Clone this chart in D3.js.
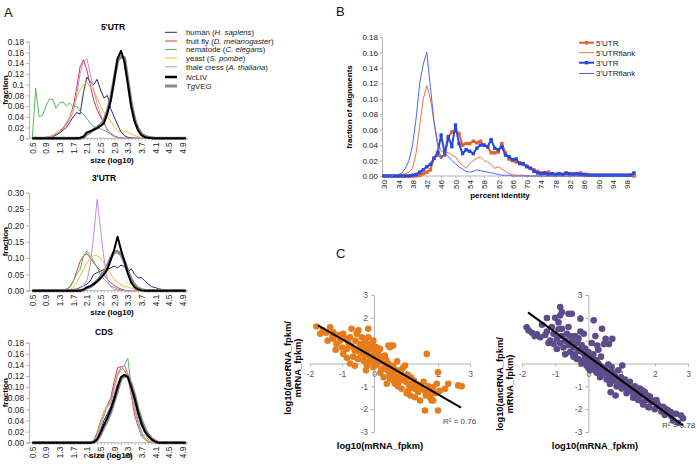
<!DOCTYPE html>
<html><head><meta charset="utf-8">
<script src="https://cdn.jsdelivr.net/npm/d3@7"></script>
<style>
body{margin:0;background:#fff;}
svg{display:block;font-family:"Liberation Sans",Arial,Helvetica,sans-serif;}
</style></head><body>
<svg id="chart" width="696" height="469"></svg>
<script>
// ---------------- DATA ----------------
// Panel A: size bins (log10) and tick labels
const sizeBins = [0.5,0.6,0.7,0.8,0.9,1.0,1.1,1.2,1.3,1.4,1.5,1.6,1.7,1.8,1.9,2.0,2.1,2.2,2.3,2.4,2.5,2.6,2.7,2.8,2.9,3.0,3.1,3.2,3.3,3.4,3.5,3.6,3.7,3.8,3.9,4.0,4.1,4.2,4.3,4.4,4.5,4.6,4.7,4.8,4.9,5.0];
const sizeLabels = ["0.5","0.9","1.3","1.7","2.1","2.5","2.9","3.3","3.7","4.1","4.5","4.9"];
const speciesNames = ["human","fruit fly","nematode","yeast","thale cress","NcLIV","TgVEG"];

const utr5_human = [0,0,0,0,0,0.001,0.003,0.006,0.01,0.015,0.02,0.03,0.04,0.048,0.045,0.085,0.114,0.105,0.1,0.11,0.09,0.075,0.08,0.055,0.04,0.025,0.012,0.005,0.002,0.001,0,0,0,0,0,0,0,0,0,0,0,0,0,0,0,0];
const utr5_fly = [0.001,0.002,0.001,0.001,0.002,0.003,0.005,0.008,0.012,0.019,0.028,0.04,0.059,0.093,0.133,0.146,0.127,0.099,0.071,0.053,0.04,0.028,0.016,0.009,0.004,0.002,0.001,0,0,0,0,0,0,0,0,0,0,0,0,0,0,0,0,0,0,0];
const utr5_worm = [0,0.093,0.04,0.043,0.06,0.073,0.072,0.056,0.066,0.068,0.06,0.066,0.058,0.06,0.05,0.045,0.037,0.028,0.022,0.02,0.018,0.015,0.012,0.008,0.005,0.002,0.001,0,0,0,0,0,0,0,0,0,0,0,0,0,0,0,0,0,0,0];
const utr5_yeast = [0,0,0,0,0.001,0.003,0.006,0.01,0.015,0.02,0.03,0.04,0.055,0.075,0.09,0.1,0.104,0.095,0.09,0.075,0.06,0.048,0.04,0.032,0.022,0.014,0.01,0.012,0.012,0.008,0.005,0.003,0.001,0,0,0,0,0,0,0,0,0,0,0,0,0];
const utr5_cress = [0,0,0,0,0,0.002,0.004,0.008,0.012,0.017,0.025,0.035,0.05,0.08,0.12,0.143,0.148,0.12,0.09,0.065,0.045,0.03,0.015,0.007,0.003,0.001,0,0,0,0,0,0,0,0,0,0,0,0,0,0,0,0,0,0,0,0];
const utr5_nc = [0,0,0,0,0,0,0,0,0,0,0,0,0,0,0.001,0.003,0.011,0.013,0.016,0.019,0.023,0.028,0.047,0.07,0.108,0.149,0.163,0.143,0.102,0.059,0.031,0.015,0.006,0.002,0.001,0,0,0,0,0,0,0,0,0,0,0];
const utr5_tg = [0,0,0,0,0,0,0,0,0,0,0,0,0,0,0,0.002,0.008,0.012,0.016,0.02,0.025,0.032,0.05,0.075,0.11,0.145,0.152,0.15,0.108,0.065,0.035,0.018,0.008,0.004,0.002,0.001,0,0,0,0,0,0,0,0,0,0];

const utr3_human = [0,0,0,0,0,0,0,0,0.002,0.001,0.002,0.003,0.004,0.005,0.01,0.015,0.02,0.03,0.05,0.055,0.06,0.065,0.065,0.07,0.075,0.07,0.078,0.075,0.055,0.068,0.05,0.04,0.04,0.03,0.02,0.012,0.01,0.006,0.004,0.003,0.002,0.001,0,0,0,0];
const utr3_fly = [0,0,0,0,0,0,0,0,0.004,0.002,0.005,0.01,0.028,0.058,0.089,0.106,0.114,0.1,0.085,0.073,0.06,0.048,0.035,0.025,0.016,0.01,0.005,0.002,0,0,0,0,0,0,0,0,0,0,0,0,0,0,0,0,0,0];
const utr3_worm = [0,0,0,0,0,0,0,0,0.003,0.002,0.005,0.012,0.03,0.05,0.065,0.105,0.122,0.108,0.09,0.07,0.05,0.035,0.025,0.015,0.01,0.005,0.002,0,0,0,0,0,0,0,0,0,0,0,0,0,0,0,0,0,0,0];
const utr3_yeast = [0,0,0,0,0,0,0,0,0.002,0.001,0.002,0.004,0.01,0.025,0.045,0.065,0.085,0.1,0.107,0.107,0.1,0.085,0.07,0.05,0.035,0.025,0.018,0.012,0.012,0.008,0.004,0.002,0,0,0,0,0,0,0,0,0,0,0,0,0,0];
const utr3_cress = [0,0,0,0,0,0,0,0,0,0,0,0,0.002,0.004,0.008,0.015,0.03,0.08,0.17,0.28,0.19,0.1,0.035,0.012,0.004,0.001,0,0,0,0,0,0,0,0,0,0,0,0,0,0,0,0,0,0,0,0];
const utr3_nc = [0,0,0,0,0,0,0,0,0,0,0,0,0,0,0,0.004,0.01,0.014,0.02,0.028,0.038,0.05,0.065,0.095,0.125,0.165,0.125,0.09,0.053,0.025,0.01,0.004,0.001,0,0,0,0,0,0,0,0,0,0,0,0,0];
const utr3_tg = [0,0,0,0,0,0,0,0,0,0,0,0,0,0,0,0.002,0.008,0.012,0.02,0.03,0.042,0.055,0.075,0.1,0.118,0.12,0.11,0.09,0.06,0.035,0.018,0.008,0.003,0.001,0,0,0,0,0,0,0,0,0,0,0,0];

const cds_human = [0,0,0,0,0,0,0,0,0,0,0,0,0,0,0,0,0,0,0.001,0.008,0.022,0.04,0.052,0.065,0.085,0.105,0.115,0.12,0.118,0.1,0.075,0.05,0.03,0.018,0.012,0.006,0.002,0,0,0,0,0,0,0,0,0];
const cds_fly = [0,0,0,0,0,0,0,0,0,0,0,0,0,0,0,0,0,0,0.004,0.018,0.038,0.055,0.068,0.08,0.11,0.135,0.137,0.13,0.12,0.085,0.05,0.03,0.012,0.006,0.002,0,0,0,0,0,0,0,0,0,0,0];
const cds_worm = [0,0,0,0,0,0,0,0,0,0,0,0,0,0,0,0,0,0,0.003,0.015,0.035,0.055,0.065,0.075,0.1,0.12,0.135,0.14,0.152,0.1,0.065,0.04,0.02,0.008,0.003,0.001,0,0,0,0,0,0,0,0,0,0];
const cds_yeast = [0,0,0,0,0,0,0,0,0,0,0,0,0,0,0,0,0,0,0.002,0.012,0.035,0.055,0.068,0.07,0.095,0.12,0.13,0.14,0.12,0.09,0.06,0.035,0.015,0.007,0.003,0,0,0,0,0,0,0,0,0,0,0];
const cds_cress = [0,0,0,0,0,0,0,0,0,0,0,0,0,0,0,0,0,0,0.002,0.01,0.03,0.048,0.065,0.07,0.1,0.125,0.135,0.14,0.125,0.09,0.06,0.035,0.012,0.015,0.006,0.002,0,0,0,0,0,0,0,0,0,0];
const cds_nc = [0,0,0,0,0,0,0,0,0,0,0,0,0,0,0,0,0,0,0.001,0.006,0.018,0.032,0.045,0.06,0.078,0.1,0.118,0.122,0.118,0.1,0.08,0.055,0.035,0.02,0.012,0.006,0.002,0,0,0,0,0,0,0,0,0];
const cds_tg = [0,0,0,0,0,0,0,0,0,0,0,0,0,0,0,0,0,0,0.001,0.005,0.015,0.028,0.04,0.055,0.075,0.095,0.115,0.12,0.12,0.105,0.085,0.06,0.04,0.025,0.014,0.007,0.003,0,0,0,0,0,0,0,0,0];

const yTicks018 = [0,0.02,0.04,0.06,0.08,0.1,0.12,0.14,0.16,0.18];
const yLabels5 = ["0","0.02","0.04","0.06","0.08","0.1","0.12","0.14","0.16","0.18"];
const yLabels2dec = ["0.00","0.02","0.04","0.06","0.08","0.10","0.12","0.14","0.16","0.18"];
const yTicks030 = [0,0.05,0.1,0.15,0.2,0.25,0.3];
const yLabels3 = ["0.00","0.05","0.10","0.15","0.20","0.25","0.30"];

// Panel B: percent identity bins
const identityBins = [30,31,32,33,34,35,36,37,38,39,40,41,42,43,44,45,46,47,48,49,50,51,52,53,54,55,56,57,58,59,60,61,62,63,64,65,66,67,68,69,70,71,72,73,74,75,76,77,78,79,80,81,82,83,84,85,86,87,88,89,90,91,92,93,94,95,96,97,98,99,100];
const identityTicks = [30,34,38,42,46,50,54,58,62,66,70,74,78,82,86,90,94,98];
const identityLabels = ["30","34","38","42","46","50","54","58","62","66","70","74","78","82","86","90","94","98"];
const alignNames = ["5'UTR","5'UTRflank","3'UTR","3'UTRflank"];
const utr5Align = [0,0,0,0,0,0,0,0,0,0, 0.001,0.003,0.005,0.008,0.023,0.027,0.025,0.027,0.05,0.057, 0.058,0.055,0.04,0.042,0.042,0.045,0.043,0.045,0.04,0.038, 0.03,0.03,0.031,0.042,0.03,0.022,0.02,0.018,0.017,0.015, 0.013,0.01,0.008,0.006,0.004,0.004,0.005,0.003,0.002,0.003, 0.002,0.003,0.002,0.003,0.003,0.004,0.002,0.002,0.001,0.001, 0.001,0.001,0.001,0.001,0.001,0.001,0.001,0.001,0.001,0.001, 0];
const utr5FlankAlign = [0,0,0,0,0.001,0.002,0.003,0.005,0.01,0.03, 0.065,0.1,0.117,0.1,0.07,0.045,0.032,0.032,0.03,0.027, 0.025,0.018,0.014,0.01,0.016,0.02,0.023,0.025,0.02,0.018, 0.015,0.01,0.012,0.009,0.006,0.003,0.002,0.001,0.001,0.001, 0,0,0,0,0,0,0,0,0,0, 0,0,0,0,0,0,0,0,0,0, 0,0,0,0,0,0,0,0,0,0, 0];
const utr3Align = [0,0,0,0,0,0,0,0,0.001,0.002, 0.005,0.008,0.012,0.015,0.023,0.03,0.053,0.029,0.051,0.038, 0.066,0.042,0.029,0.034,0.032,0.029,0.036,0.04,0.04,0.038, 0.047,0.036,0.034,0.038,0.027,0.025,0.021,0.022,0.016,0.016, 0.012,0.01,0.006,0.004,0.003,0.004,0.002,0.003,0.002,0.003, 0.002,0.004,0.003,0.002,0.003,0.002,0.002,0.001,0.001,0.001, 0.001,0.001,0.001,0.001,0.001,0.001,0.001,0.001,0.001,0.001, 0.004];
const utr3FlankAlign = [0,0,0,0.001,0.002,0.004,0.01,0.02,0.04,0.075, 0.12,0.145,0.16,0.115,0.07,0.04,0.022,0.03,0.025,0.02, 0.016,0.012,0.009,0.006,0.005,0.006,0.008,0.007,0.006,0.005, 0.004,0.003,0.002,0.001,0.001,0.001,0,0,0,0, 0,0,0,0,0,0,0,0,0,0, 0,0,0,0,0,0,0,0,0,0, 0,0,0,0,0,0,0,0,0,0, 0];
const yTicksB = [0,0.02,0.04,0.06,0.08,0.1,0.12,0.14,0.16,0.18];
const yLabelsB = ["0.00","0.02","0.04","0.06","0.08","0.10","0.12","0.14","0.16","0.18"];

// Panel C: scatter [log10(mRNA_fpkm), log10(ancRNA/mRNA)]
const scatterLeft = [[-1.8,1.62],[-1.68,1.3],[-1.6,1.45],[-1.5,1.35],[-1.45,1.0],[-1.37,1.59],[-1.3,1.2],[-1.27,1.37],[-1.27,1.08],[-1.2,0.6],[-1.17,0.85],[-1.1,1.25],[-1.06,1.0],[-1.0,0.7],[-0.96,1.3],[-0.96,0.42],[-0.9,1.1],[-0.85,0.64],[-0.85,0.25],[-0.8,0.9],[-0.75,1.15],[-0.75,0.0],[-0.7,1.52],[-0.7,0.75],[-0.65,0.3],[-0.6,0.57],[-0.6,-0.1],[-0.58,1.0],[-0.54,1.3],[-0.54,0.57],[-0.5,0.2],[-0.49,1.45],[-0.45,0.85],[-0.42,0.45],[-0.38,1.15],[-0.38,0.79],[-0.35,0.6],[-0.33,0.13],[-0.3,0.35],[-0.28,1.0],[-0.25,0.7],[-0.25,-0.3],[-0.22,-0.1],[-0.2,0.5],[-0.18,1.52],[-0.18,1.15],[-0.18,0.06],[-0.15,0.85],[-0.12,0.3],[-0.1,0.65],[-0.07,0.79],[-0.05,0.9],[-0.05,0.1],[-0.02,1.0],[-0.02,-0.16],[0.0,0.4],[0.03,0.2],[0.05,0.6],[0.08,0.28],[0.08,0.71],[0.1,-0.05],[0.12,0.45],[0.15,0.1],[0.19,0.64],[0.2,-0.4],[0.23,-0.25],[0.25,0.3],[0.28,0.05],[0.3,-0.6],[0.34,0.35],[0.35,-0.15],[0.38,0.15],[0.4,-0.89],[0.42,-0.3],[0.45,0.79],[0.45,0.0],[0.48,-0.5],[0.5,0.71],[0.5,-0.67],[0.52,-0.2],[0.55,0.79],[0.55,-0.38],[0.6,0.79],[0.6,-0.1],[0.62,-0.75],[0.65,-0.53],[0.66,-0.89],[0.7,-0.3],[0.72,0.1],[0.75,-1.0],[0.78,-0.6],[0.81,-0.31],[0.81,-0.75],[0.85,-0.45],[0.86,-1.11],[0.9,-0.2],[0.95,-0.7],[0.97,-0.09],[1.0,-0.8],[1.02,-1.3],[1.05,-0.5],[1.07,-1.18],[1.1,-0.95],[1.13,-0.89],[1.13,-1.4],[1.15,-0.6],[1.2,-1.05],[1.25,-0.75],[1.28,-1.11],[1.28,-1.48],[1.32,-0.9],[1.38,-1.25],[1.44,-0.96],[1.44,-1.62],[1.5,-1.1],[1.55,-0.8],[1.59,-1.18],[1.59,-2.06],[1.62,-1.4],[1.65,0.42],[1.7,-1.0],[1.75,-1.26],[1.75,-1.48],[1.8,-1.62],[1.85,-1.04],[1.85,-1.62],[1.9,-1.3],[1.96,-0.89],[2.0,-0.38],[2.0,-2.06],[2.05,-1.2],[2.22,-1.11],[2.32,-0.89],[2.63,-0.96],[2.74,-1.0]];
const scatterRight = [[-1.86,1.59],[-1.8,1.45],[-1.7,1.35],[-1.62,1.2],[-1.55,1.28],[-1.45,1.15],[-1.4,1.7],[-1.25,1.99],[-1.25,1.4],[-1.3,1.25],[-1.2,0.9],[-1.15,1.0],[-1.1,1.6],[-1.05,1.3],[-1.05,0.86],[-1.0,2.0],[-0.95,0.64],[-0.95,1.1],[-0.9,1.5],[-0.9,1.8],[-0.85,2.47],[-0.85,2.1],[-0.85,0.9],[-0.8,2.25],[-0.8,1.52],[-0.8,1.2],[-0.75,0.7],[-0.7,1.0],[-0.7,0.4],[-0.65,1.3],[-0.6,2.18],[-0.6,1.6],[-0.6,0.8],[-0.55,1.2],[-0.55,0.5],[-0.5,2.18],[-0.5,1.0],[-0.45,0.7],[-0.45,0.3],[-0.4,1.2],[-0.4,0.4],[-0.35,0.9],[-0.35,0.2],[-0.3,0.6],[-0.3,0.2],[-0.3,1.1],[-0.25,0.55],[-0.24,1.96],[-0.24,1.4],[-0.2,0.8],[-0.19,0.0],[-0.15,0.45],[-0.15,0.1],[-0.14,1.3],[-0.1,0.25],[-0.1,0.65],[-0.05,-0.1],[0.0,0.5],[0.0,0.1],[0.0,-0.2],[0.05,0.3],[0.05,-0.3],[0.05,0.05],[0.1,0.9],[0.1,0.0],[0.12,-0.2],[0.15,0.4],[0.15,-0.05],[0.16,1.89],[0.2,-0.1],[0.2,-0.3],[0.21,1.2],[0.22,0.15],[0.25,-0.4],[0.25,0.1],[0.27,0.79],[0.3,0.0],[0.3,-0.25],[0.3,0.6],[0.35,-0.6],[0.35,-0.1],[0.38,0.3],[0.4,-0.15],[0.4,-0.5],[0.41,1.52],[0.45,-0.45],[0.45,-0.2],[0.47,0.85],[0.5,-0.3],[0.52,1.08],[0.55,-0.7],[0.55,-0.35],[0.6,-0.05],[0.62,0.85],[0.62,-0.5],[0.65,-0.9],[0.65,-0.6],[0.67,-1.26],[0.7,-0.35],[0.7,-0.15],[0.72,1.08],[0.75,-0.75],[0.75,-0.45],[0.8,-0.55],[0.82,-1.4],[0.85,-1.0],[0.85,-0.7],[0.9,-0.3],[0.92,-0.8],[0.95,-0.95],[0.98,-0.6],[1.0,-1.1],[1.02,-0.09],[1.02,-0.82],[1.05,-0.9],[1.1,-0.7],[1.1,-1.0],[1.15,-1.3],[1.17,-1.11],[1.2,-1.0],[1.25,-0.8],[1.25,-1.05],[1.3,-1.2],[1.35,-1.5],[1.35,-1.3],[1.4,-1.0],[1.42,-1.48],[1.45,-1.3],[1.48,-1.11],[1.5,-1.6],[1.55,-1.1],[1.6,-1.4],[1.63,-1.18],[1.63,-1.7],[1.65,-1.8],[1.7,-1.25],[1.75,-1.6],[1.78,-1.4],[1.8,-1.9],[1.83,-1.92],[1.85,-1.45],[1.9,-1.7],[1.93,-1.62],[2.0,-2.0],[2.05,-1.6],[2.08,-1.77],[2.1,-1.85],[2.2,-2.1],[2.25,-1.9],[2.3,-2.25],[2.33,-1.99],[2.4,-2.05],[2.48,-2.13],[2.5,-2.3],[2.55,-2.5],[2.64,-2.2],[2.7,-2.6],[2.79,-2.28],[2.85,-2.4]];
// trend lines: [slope, intercept, xStart, xEnd]
const fitLeft = [-0.805, 0.26, -1.75, 2.72];
const fitRight = [-1.06, 0.31, -1.82, 2.85];
const r2Labels = ["R\u00B2 = 0.76", "R\u00B2 = 0.78"];
const cTicks = [-3,-2,-1,0,1,2,3];
const cTickLabels = ["-3","-2","-1","0","1","2","3"];
const cXTicks = [-2,-1,0,1,2,3];
const cXTickLabels = ["-2","-1","0","1","2","3"];

// ---------------- DRAWING ----------------
const svg = d3.select("#chart");
const AXIS_COL = "#b5b5b5";
const TXT_COL = "#222";

function styleAxis(g, size){
  g.select(".domain").attr("stroke", AXIS_COL);
  g.selectAll(".tick line").attr("stroke", AXIS_COL);
  g.selectAll(".tick text").attr("fill", TXT_COL).style("font-size", size+"px").style("font-family",'"Liberation Sans",Arial,sans-serif');
}

// panel letters
[["A",4,17],["B",336,16],["C",336,258]].forEach(([t,x,y])=>{
  svg.append("text").attr("x",x).attr("y",y).text(t).style("font-size","13px").attr("fill","#111");
});

// ---- Panel A ----
const xA = d3.scaleLinear().domain([0.5,5.0]).range([32.3, 185.8]);
const AX_LEFT = 29, AX_RIGHT = 188;
const colorsA = ["#23297a","#d33a3f","#57b957","#f2be2a","#c58be6","#000000","#8a8a8a"];
const panelsA = [
  {title:"5'UTR", series:[utr5_human,utr5_fly,utr5_worm,utr5_yeast,utr5_cress,utr5_tg,utr5_nc], ymax:0.18, ticks:yTicks018, labels:yLabels5, top:41.7, bottom:138.3, titleX:113, titleY:30, xlabX:112, xlabY:163},
  {title:"3'UTR", series:[utr3_human,utr3_fly,utr3_worm,utr3_yeast,utr3_cress,utr3_tg,utr3_nc], ymax:0.30, ticks:yTicks030, labels:yLabels3, top:192.7, bottom:290.7, titleX:104, titleY:181, xlabX:112, xlabY:315},
  {title:"CDS", series:[cds_human,cds_fly,cds_worm,cds_yeast,cds_cress,cds_tg,cds_nc], ymax:0.18, ticks:yTicks018, labels:yLabels2dec, top:342.7, bottom:442.7, titleX:104, titleY:334.5, xlabX:111, xlabY:458}
];
const seriesColorIdx = [0,1,2,3,4,6,5]; // gray drawn before black
panelsA.forEach(p=>{
  const y = d3.scaleLinear().domain([0,p.ymax]).range([p.bottom,p.top]);
  const g = svg.append("g");
  const ya = g.append("g").attr("transform",`translate(${AX_LEFT},0)`)
    .call(d3.axisLeft(y).tickValues(p.ticks).tickFormat((d,i)=>p.labels[i]).tickSize(3).tickPadding(2));
  styleAxis(ya, 8.3);
  const xa = g.append("g").attr("transform",`translate(0,${p.bottom})`)
    .call(d3.axisBottom(xA).tickValues(sizeBins).tickFormat((d,i)=> i%4===0 ? sizeLabels[i/4] : "").tickSize(2));
  xa.select(".domain").attr("d",`M${AX_LEFT},0H${AX_RIGHT}`);
  styleAxis(xa, 8.3);
  xa.selectAll(".tick text").attr("transform","rotate(-90)").attr("x",-4).attr("y",0).attr("dy","0.35em").style("text-anchor","end");
  const line = d3.line().x((d,i)=>xA(sizeBins[i])).y(d=>y(d));
  p.series.forEach((s,k)=>{
    const ci = seriesColorIdx[k];
    const w = ci===6 ? 3.2 : (ci===5 ? 2.0 : 1);
    g.append("path").attr("d",line(s)).attr("fill","none").attr("stroke",colorsA[ci]).attr("stroke-width",w).attr("stroke-linejoin","round");
  });
  g.append("text").attr("x",p.titleX).attr("y",p.titleY).attr("text-anchor","middle").style("font-size","8.5px").style("font-weight","bold").text(p.title);
  g.append("text").attr("x",p.xlabX).attr("y",p.xlabY).attr("text-anchor","middle").style("font-size","8px").style("font-weight","bold").text("size (log10)");
  g.append("text").attr("transform",`translate(8,${(p.top+p.bottom)/2}) rotate(-90)`).attr("text-anchor","middle").style("font-size","8px").style("font-weight","bold").text("fraction");
});

// legend A
const legendParts = [
  [["human (",0],["H. sapiens",1],[")",0]],
  [["fruit fly (",0],["D. melanogaster",1],[")",0]],
  [["nematode (",0],["C. elegans",1],[")",0]],
  [["yeast (",0],["S. pombe",1],[")",0]],
  [["thale cress (",0],["A. thaliana",1],[")",0]],
  [["Nc",1],["LIV",0]],
  [["Tg",1],["VEG",0]]
];
const legRowY = [32.3,41,49.5,58,66.7,77,86];
speciesNames.forEach((n,i)=>{
  const yy = legRowY[i];
  svg.append("line").attr("x1",165).attr("x2",177).attr("y1",yy).attr("y2",yy)
    .attr("stroke",colorsA[i]).attr("stroke-width", i===5?2.5:(i===6?3:1));
  const t = svg.append("text").attr("x",186).attr("y",yy+2.8).style("font-size","7.8px").attr("fill","#222");
  legendParts[i].forEach(([s,it])=>t.append("tspan").style("font-style",it?"italic":"normal").text(s));
});

// ---- Panel B ----
const xB = d3.scaleLinear().domain([30,100]).range([384,634]);
const yB = d3.scaleLinear().domain([0,0.18]).range([176,37]);
const gB = svg.append("g");
const yaB = gB.append("g").attr("transform","translate(382,0)")
  .call(d3.axisLeft(yB).tickValues(yTicksB).tickFormat((d,i)=>yLabelsB[i]).tickSize(2).tickPadding(2));
styleAxis(yaB, 8);
const xaB = gB.append("g").attr("transform","translate(0,176)")
  .call(d3.axisBottom(xB).tickValues(identityTicks).tickFormat((d,i)=>identityLabels[i]).tickSize(2));
xaB.select(".domain").attr("d","M382,0H638");
styleAxis(xaB, 8);
xaB.selectAll(".tick text").attr("transform","rotate(-90)").attr("x",-4).attr("y",0).attr("dy","0.35em").style("text-anchor","end");
const colorsB = ["#ec5a2a","#f2703f","#2747e0","#4a68ee"];
const widthsB = [2,1,2,1];
const seriesB = [utr5Align, utr5FlankAlign, utr3Align, utr3FlankAlign];
const lineB = d3.line().x((d,i)=>xB(identityBins[i])).y(d=>yB(d));
seriesB.forEach((s,k)=>{
  gB.append("path").attr("d",lineB(s)).attr("fill","none").attr("stroke",colorsB[k]).attr("stroke-width",widthsB[k]).attr("stroke-linejoin","round");
  if(k===0||k===2){
    gB.append("g").selectAll("rect").data(s).join("rect")
      .attr("x",(d,i)=>xB(identityBins[i])-1.7).attr("y",d=>yB(d)-1.7).attr("width",3.4).attr("height",3.4).attr("fill",colorsB[k]);
  }
});
gB.append("text").attr("transform","translate(352,107) rotate(-90)").attr("text-anchor","middle").style("font-size","8px").style("font-weight","bold").text("fraction of alignments");
gB.append("text").attr("x",500).attr("y",198).attr("text-anchor","middle").style("font-size","8px").style("font-weight","bold").text("percent identity");
const legBY = [42.7,52.7,62.7,73.5];
alignNames.forEach((n,i)=>{
  const yy = legBY[i];
  gB.append("line").attr("x1",579).attr("x2",594).attr("y1",yy).attr("y2",yy).attr("stroke",colorsB[i]).attr("stroke-width",widthsB[i]);
  if(i===0||i===2) gB.append("rect").attr("x",584.8).attr("y",yy-1.7).attr("width",3.4).attr("height",3.4).attr("fill",colorsB[i]);
  gB.append("text").attr("x",596).attr("y",yy+2.8).style("font-size","8px").attr("fill","#222").text(n);
});

// ---- Panel C ----
const yC = d3.scaleLinear().domain([-3,3]).range([432,295]);
const panelsC = [
  {pts:scatterLeft, fit:fitLeft, color:"#e67c1b", xr:[310,470], r2:r2Labels[0], r2x:443, r2y:424, ylx:291, yly:368},
  {pts:scatterRight, fit:fitRight, color:"#5d4b8a", xr:[522,688], r2:r2Labels[1], r2x:662, r2y:428, ylx:503, yly:384}
];
panelsC.forEach(p=>{
  const x = d3.scaleLinear().domain([-2,3]).range(p.xr);
  const g = svg.append("g");
  const xa = g.append("g").attr("transform",`translate(0,${yC(0)})`)
    .call(d3.axisBottom(x).tickValues(cXTicks).tickFormat((d,i)=>cXTickLabels[i]).tickSize(3).tickPadding(4));
  styleAxis(xa, 8.5);
  xa.selectAll(".tick text").attr("fill","#555");
  const ya = g.append("g").attr("transform",`translate(${x(0)},0)`)
    .call(d3.axisLeft(yC).tickValues(cTicks).tickFormat((d,i)=>cTickLabels[i]).tickSize(3).tickPadding(3));
  styleAxis(ya, 8.5);
  ya.selectAll(".tick text").attr("fill","#555");
  g.append("g").selectAll("circle").data(p.pts).join("circle")
    .attr("cx",d=>x(d[0])).attr("cy",d=>yC(d[1])).attr("r",3.3).attr("fill",p.color);
  const [m,b,x0,x1] = p.fit;
  g.append("line").attr("x1",x(x0)).attr("y1",yC(m*x0+b)).attr("x2",x(x1)).attr("y2",yC(m*x1+b))
    .attr("stroke","#000").attr("stroke-width",2);
  g.append("text").attr("x",p.r2x).attr("y",p.r2y).style("font-size","8px").attr("fill","#444").text(p.r2);
  g.append("text").attr("x",(p.xr[0]+p.xr[1])/2-10).attr("y",449).attr("text-anchor","middle").style("font-size","9.3px").style("font-weight","bold").text("log10(mRNA_fpkm)");
  const yl = g.append("text").attr("transform",`translate(${p.ylx},${p.yly}) rotate(-90)`).attr("text-anchor","middle").style("font-size","9.3px").style("font-weight","bold");
  yl.append("tspan").attr("x",0).attr("dy",0).text("log10(ancRNA_fpkm/");
  yl.append("tspan").attr("x",0).attr("dy","1.1em").text("mRNA_fpkm)");
});
</script>
</body></html>
